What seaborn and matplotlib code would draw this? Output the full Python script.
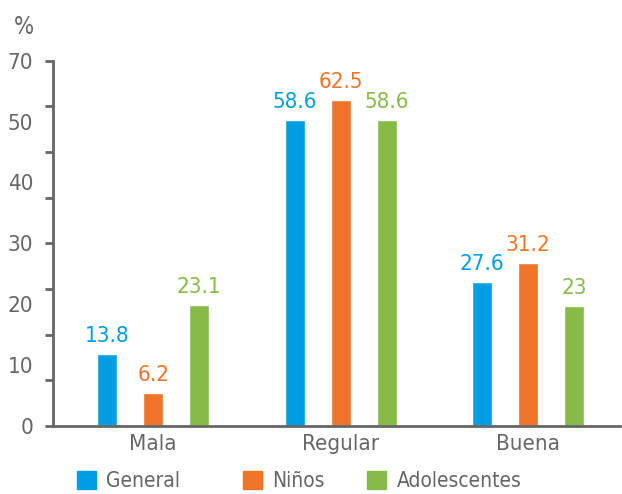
import numpy as np
import pandas as pd
import seaborn as sns
import matplotlib.pyplot as plt
from matplotlib.patches import Patch

# %% DADOS
categorias = ['Mala', 'Regular', 'Buena']
series = ['General', 'Niños', 'Adolescentes']
general = [13.8, 58.6, 27.6]
ninos = [6.2, 62.5, 31.2]
adolescentes = [23.1, 58.6, 23]
ytick_labels = ['0', '10', '20', '30', '40', '50', '70']
cores = ['#009FE3', '#EF7427', '#86BC46']

df = pd.DataFrame({
    'categoria': categorias * 3,
    'serie': [s for s in series for _ in categorias],
    'valor': general + ninos + adolescentes,
})

# %% DATAVIZ
sns.set_style("white")
plt.rcParams['font.family'] = ['DejaVu Sans']
plt.rcParams['font.stretch'] = 'condensed'
cinza = '#666666'

fig, ax = plt.subplots(figsize=(6.22, 4.94), dpi=100)
fig.subplots_adjust(left=0.085, right=0.997, bottom=0.138, top=0.877)

sns.barplot(data=df, x='categoria', y='valor', hue='serie', order=categorias,
            hue_order=series, palette=cores, width=0.735, gap=0.56,
            legend=False, ax=ax, saturation=1)

for cont, cor in zip(ax.containers, cores):
    ax.bar_label(cont, labels=[f'{v:g}' for v in cont.datavalues],
                 color=cor, fontsize=16, padding=6, fontstretch='condensed')

ax.set_xlim(-0.535, 2.49)
ax.set_ylim(0, 70)
ax.set_xlabel('')
ax.set_ylabel('')

# marcas do eixo y (sem rótulo) e rótulos em posições separadas
ax.yaxis.remove_overlapping_locs = False
ax.set_yticks(np.linspace(0, 70, 9))
ax.set_yticklabels([])
ax.set_yticks(np.linspace(0, 70, 7), minor=True)
ax.set_yticklabels(ytick_labels, minor=True)
ax.tick_params(axis='y', which='major', length=6, width=2, color=cinza, left=True)
ax.tick_params(axis='y', which='minor', length=0, pad=14, labelsize=16, labelcolor=cinza)
ax.tick_params(axis='x', length=0, pad=6, labelsize=16, labelcolor=cinza)

for lado in ['top', 'right']:
    ax.spines[lado].set_visible(False)
for lado in ['left', 'bottom']:
    ax.spines[lado].set_color(cinza)
    ax.spines[lado].set_linewidth(2)

fig.text(0.022, 0.945, '%', fontsize=17, color=cinza, ha='left', va='center')

# legenda: um item por vez para acertar as posições
leg_x = [0.097, 0.364, 0.564]
for s, c, x in zip(series, cores, leg_x):
    leg = fig.legend(handles=[Patch(color=c, label=s)], loc='lower left',
                     bbox_to_anchor=(x, -0.028), frameon=False, fontsize=15,
                     labelcolor=cinza, handlelength=0.9, handleheight=0.9,
                     handletextpad=0.5, borderpad=0.3)

plt.savefig('out.png', dpi=100)
